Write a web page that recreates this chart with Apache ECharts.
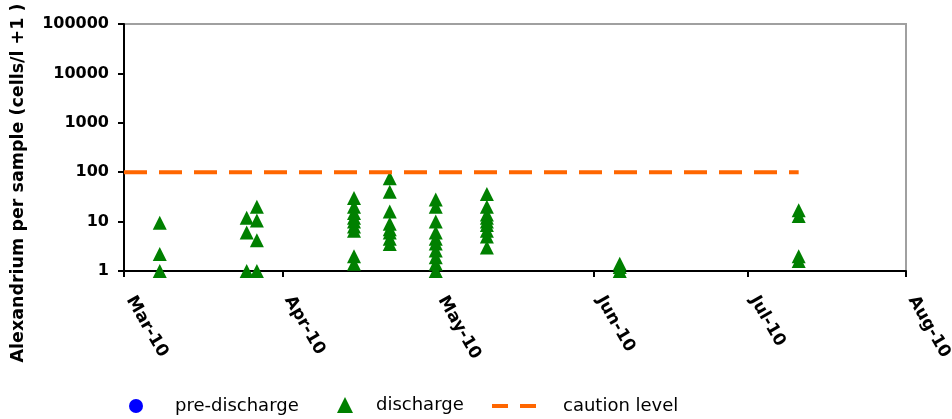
<!DOCTYPE html>
<html>
<head>
<meta charset="utf-8">
<script src="https://cdn.jsdelivr.net/npm/echarts@6/dist/echarts.min.js"></script>
<style>
html,body{margin:0;padding:0;background:#fff;}
#chart{width:952px;height:419px;}
</style>
</head>
<body>
<div id="chart"></div>
<script>
// ---- data ----
const xTickLabels = ['Mar-10', 'Apr-10', 'May-10', 'Jun-10', 'Jul-10', 'Aug-10'];
const yTickLabels = ['1', '10', '100', '1000', '10000', '100000'];

const sampleDates = ['2010-03-08', '2010-03-25', '2010-03-27', '2010-04-15', '2010-04-22', '2010-05-01', '2010-05-11', '2010-06-06', '2010-07-11'];
const dischargeValues = [
  [9.5, 2.2, 1],
  [12, 6, 1],
  [20, 10.5, 4.2, 1],
  [30, 20, 15, 12, 10, 8, 6.5, 2, 1.4],
  [75, 40, 16, 9, 7, 6, 4.5, 3.5],
  [28, 20, 10, 6, 4.5, 3.6, 2.6, 1.9, 1.4, 1],
  [36, 20, 14, 12, 10, 8.5, 6.5, 5, 3],
  [1.4, 1.2, 1],
  [17, 13, 2, 1.6]
];
const preDischargeDates = [];
const preDischargeValues = [];
const cautionDates = ['2010-03-01', '2010-07-11'];
const cautionValues = [100, 100];

// ---- build series data ----
const dischargeData = [];
sampleDates.forEach((d, i) => dischargeValues[i].forEach(v => dischargeData.push([d, v])));
const preData = preDischargeDates.map((d, i) => [d, preDischargeValues[i]]);
const cautionData = cautionDates.map((d, i) => [d, cautionValues[i]]);

const chart = echarts.init(document.getElementById('chart'), null, {renderer: 'canvas'});
const DAY = 86400000;
const legendText = {fontFamily: 'DejaVu Sans', fontSize: 18, color: '#000'};

chart.setOption({
  animation: false,
  backgroundColor: '#fff',
  grid: {left: 124, right: 46, top: 24, bottom: 148, outerBoundsMode: 'none', containLabel: false, show: true, borderColor: '#a0a0a0', borderWidth: 2},
  xAxis: {
    type: 'time',
    min: '2010-03-01',
    max: '2010-08-01',
    minInterval: 28 * DAY,
    maxInterval: 31 * DAY,
    splitLine: {show: false},
    axisLine: {show: true, lineStyle: {color: '#000', width: 2}},
    axisTick: {show: true, length: 6, lineStyle: {color: '#000', width: 2}},
    axisLabel: {
      rotate: -60,
      margin: 16,
      padding: [0, 0, 0, 12],
      showMinLabel: true,
      showMaxLabel: true,
      hideOverlap: false,
      fontFamily: 'DejaVu Sans',
      fontWeight: 'bold',
      fontSize: 17,
      color: '#000',
      formatter: function (val) {
        const dt = new Date(val);
        const idx = (dt.getFullYear() - 2010) * 12 + dt.getMonth() - 2;
        return xTickLabels[idx] || '';
      }
    }
  },
  yAxis: {
    type: 'log',
    logBase: 10,
    min: 1,
    max: 100000,
    splitLine: {show: false},
    axisLine: {show: true, lineStyle: {color: '#000', width: 2}},
    axisTick: {show: true, length: 6, lineStyle: {color: '#000', width: 2}},
    axisLabel: {
      margin: 15,
      fontFamily: 'DejaVu Sans',
      fontWeight: 'bold',
      fontSize: 16,
      color: '#000',
      formatter: function (val) {
        const idx = Math.round(Math.log10(val));
        return yTickLabels[idx] !== undefined ? yTickLabels[idx] : '';
      }
    }
  },
  legend: [
    {data: ['pre-discharge'], left: 124, top: 392, itemWidth: 14, itemHeight: 14, icon: 'circle', textStyle: Object.assign({padding: [0, 0, 0, 27]}, legendText)},
    {data: ['discharge'], left: 332, top: 391, itemWidth: 16, itemHeight: 16, icon: 'triangle', textStyle: Object.assign({padding: [0, 0, 0, 18]}, legendText)},
    {data: ['caution level'], left: 487, top: 392, itemWidth: 44, itemHeight: 4, icon: 'path://M0,0h16v4h-16z M28,0h16v4h-16z', textStyle: Object.assign({padding: [0, 0, 0, 22]}, legendText)}
  ],
  graphic: [{
    type: 'text',
    x: 18,
    y: 183,
    rotation: Math.PI / 2,
    style: {
      text: 'Alexandrium per sample (cells/l +1 )',
      fontFamily: 'DejaVu Sans',
      fontWeight: 'bold',
      fontSize: 17.5,
      fill: '#000',
      align: 'center',
      verticalAlign: 'middle'
    }
  }],
  series: [
    {
      name: 'pre-discharge',
      type: 'scatter',
      symbol: 'circle',
      symbolSize: 13,
      itemStyle: {color: '#0000ff', opacity: 1},
      data: preData
    },
    {
      name: 'discharge',
      type: 'scatter',
      symbol: 'triangle',
      symbolSize: 14,
      itemStyle: {color: '#008000', opacity: 1},
      data: dischargeData
    },
    {
      name: 'caution level',
      type: 'line',
      symbol: 'none',
      showSymbol: false,
      lineStyle: {color: '#ff6600', width: 4, type: [23, 12]},
      itemStyle: {color: '#ff6600'},
      data: cautionData
    }
  ]
});
</script>
</body>
</html>
